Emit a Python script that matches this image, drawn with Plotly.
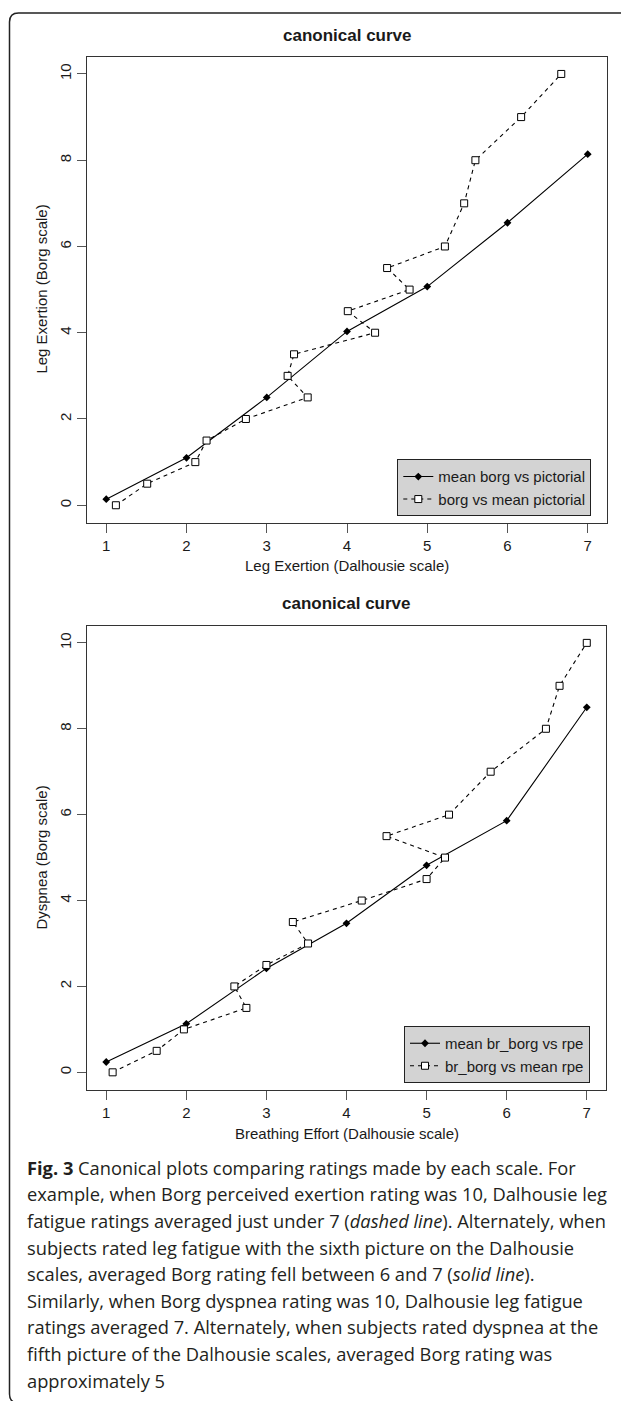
import plotly.graph_objects as go

# ---------------- data ----------------
dal_levels = [1, 2, 3, 4, 5, 6, 7]
leg_mean_borg = [0.14, 1.10, 2.50, 4.03, 5.07, 6.55, 8.14]
borg_levels = [0, 0.5, 1, 1.5, 2, 2.5, 3, 3.5, 4, 4.5, 5, 5.5, 6, 7, 8, 9, 10]
leg_mean_pictorial = [1.12, 1.51, 2.11, 2.25, 2.74, 3.51, 3.26, 3.34, 4.35, 4.01,
                      4.78, 4.50, 5.22, 5.46, 5.60, 6.17, 6.67]

br_mean_borg = [0.24, 1.13, 2.42, 3.47, 4.82, 5.86, 8.50]
br_mean_rpe = [1.08, 1.63, 1.97, 2.75, 2.60, 3.00, 3.52, 3.33, 4.19, 5.00,
               5.23, 4.50, 5.28, 5.80, 6.49, 6.66, 7.00]

x_ticks = [1, 2, 3, 4, 5, 6, 7]
y_ticks = [0, 2, 4, 6, 8, 10]

plot_title = "canonical curve"
top_xtitle = "Leg Exertion (Dalhousie scale)"
top_ytitle = "Leg Exertion (Borg scale)"
bot_xtitle = "Breathing Effort (Dalhousie scale)"
bot_ytitle = "Dyspnea (Borg scale)"
top_names = ["mean borg vs pictorial", "borg vs mean pictorial"]
bot_names = ["mean br_borg vs rpe", "br_borg vs mean rpe"]

caption_lines = [
    "<b>Fig. 3</b> Canonical plots comparing ratings made by each scale. For",
    "example, when Borg perceived exertion rating was 10, Dalhousie leg",
    "fatigue ratings averaged just under 7 (<i>dashed line</i>). Alternately, when",
    "subjects rated leg fatigue with the sixth picture on the Dalhousie",
    "scales, averaged Borg rating fell between 6 and 7 (<i>solid line</i>).",
    "Similarly, when Borg dyspnea rating was 10, Dalhousie leg fatigue",
    "ratings averaged 7. Alternately, when subjects rated dyspnea at the",
    "fifth picture of the Dalhousie scales, averaged Borg rating was",
    "approximately 5",
]

# ---------------- layout helpers ----------------
# the page body has an 8px margin, so the figure starts at (8, 8) in the window
OFF = 8
W, H = 629 - OFF, 1401 - OFF
def px(x):
    return (x - OFF) / W
def py(y):
    return 1 - (y - OFF) / H

FONT = "Liberation Sans, Arial, Helvetica, sans-serif"
CAP_FONT = "Open Sans, Noto Sans, sans-serif"
INK = "#1a1a1a"

fig = go.Figure()

solid_line = dict(color="black", width=1.1)
dash_line = dict(color="black", width=1.1, dash="4px,4px")
diamond = dict(symbol="diamond", size=6, color="black")
square = dict(symbol="square", size=7, color="white", line=dict(color="black", width=1))

# top panel
fig.add_trace(go.Scatter(x=dal_levels, y=leg_mean_borg, mode="lines+markers",
                         name=top_names[0], line=solid_line, marker=diamond,
                         xaxis="x", yaxis="y", legend="legend"))
fig.add_trace(go.Scatter(x=leg_mean_pictorial, y=borg_levels, mode="lines+markers",
                         name=top_names[1], line=dash_line, marker=square,
                         xaxis="x", yaxis="y", legend="legend"))
# bottom panel
fig.add_trace(go.Scatter(x=dal_levels, y=br_mean_borg, mode="lines+markers",
                         name=bot_names[0], line=solid_line, marker=diamond,
                         xaxis="x2", yaxis="y2", legend="legend2"))
fig.add_trace(go.Scatter(x=br_mean_rpe, y=borg_levels, mode="lines+markers",
                         name=bot_names[1], line=dash_line, marker=square,
                         xaxis="x2", yaxis="y2", legend="legend2"))

axis_common = dict(showgrid=False, zeroline=False, showline=True, mirror=True,
                   linecolor="#333", linewidth=1, ticks="outside", ticklen=9,
                   tickwidth=1, tickcolor="#555",
                   tickfont=dict(family=FONT, size=15, color=INK))

TOP = dict(l=87, r=607, t=56.7, b=522.5)
BOT = dict(l=87, r=606, t=625.7, b=1089.5)

fig.update_layout(
    width=W, height=H,
    margin=dict(l=0, r=0, t=0, b=0),
    paper_bgcolor="white", plot_bgcolor="white",
    font=dict(family=FONT, color=INK),
    xaxis=dict(domain=[px(TOP["l"]), px(TOP["r"])], range=[0.76, 7.24],
               tickvals=x_ticks, anchor="y", **axis_common),
    yaxis=dict(domain=[py(TOP["b"]), py(TOP["t"])], range=[-0.4, 10.4],
               tickvals=y_ticks, tickangle=-90, anchor="x", **axis_common),
    xaxis2=dict(domain=[px(BOT["l"]), px(BOT["r"])], range=[0.76, 7.24],
                tickvals=x_ticks, anchor="y2", **axis_common),
    yaxis2=dict(domain=[py(BOT["b"]), py(BOT["t"])], range=[-0.4, 10.4],
                tickvals=y_ticks, tickangle=-90, anchor="x2", **axis_common),
    legend=dict(x=px(397.3), y=py(459.3), xanchor="left", yanchor="top",
                bgcolor="#d3d3d3", bordercolor="#222", borderwidth=1,
                font=dict(family=FONT, size=15, color=INK)),
    legend2=dict(x=px(404), y=py(1026), xanchor="left", yanchor="top",
                 bgcolor="#d3d3d3", bordercolor="#222", borderwidth=1,
                 font=dict(family=FONT, size=15, color=INK)),
    showlegend=True,
)

ann = []
def text_at(x, y, s, size, angle=0, xanchor="center", family=FONT, color=INK):
    ann.append(dict(x=px(x), y=py(y), xref="paper", yref="paper", text=s,
                    showarrow=False, xanchor=xanchor, yanchor="middle",
                    textangle=angle, font=dict(family=family, size=size, color=color)))

# titles
text_at((TOP["l"] + TOP["r"]) / 2, 35, "<b>" + plot_title + "</b>", 17)
text_at((BOT["l"] + BOT["r"]) / 2, 603.5, "<b>" + plot_title + "</b>", 17)
# axis titles
text_at((TOP["l"] + TOP["r"]) / 2, 565, top_xtitle, 15)
text_at(42, (TOP["t"] + TOP["b"]) / 2, top_ytitle, 15, angle=-90)
text_at((BOT["l"] + BOT["r"]) / 2, 1133, bot_xtitle, 15)
text_at(42, (BOT["t"] + BOT["b"]) / 2, bot_ytitle, 15, angle=-90)

# caption
for i, line in enumerate(caption_lines):
    text_at(25, 1167.3 + i * 26.6, line, 18.3, xanchor="left", family=CAP_FONT, color="#231f20")

fig.update_layout(annotations=ann)

# outer rounded frame (right and bottom edges fall just outside the page)
x0, x1, y0, y1, r = px(9.5), px(633), py(13), py(1403), 9
rx, ry = r / W, r / H
path = (f"M {x0+rx} {y0} L {x1-rx} {y0} Q {x1} {y0} {x1} {y0-ry} "
        f"L {x1} {y1+ry} Q {x1} {y1} {x1-rx} {y1} L {x0+rx} {y1} "
        f"Q {x0} {y1} {x0} {y1+ry} L {x0} {y0-ry} Q {x0} {y0} {x0+rx} {y0} Z")
fig.add_shape(type="path", path=path, xref="paper", yref="paper",
              line=dict(color="#222", width=1.5), layer="above")

fig.write_html("out.html")
